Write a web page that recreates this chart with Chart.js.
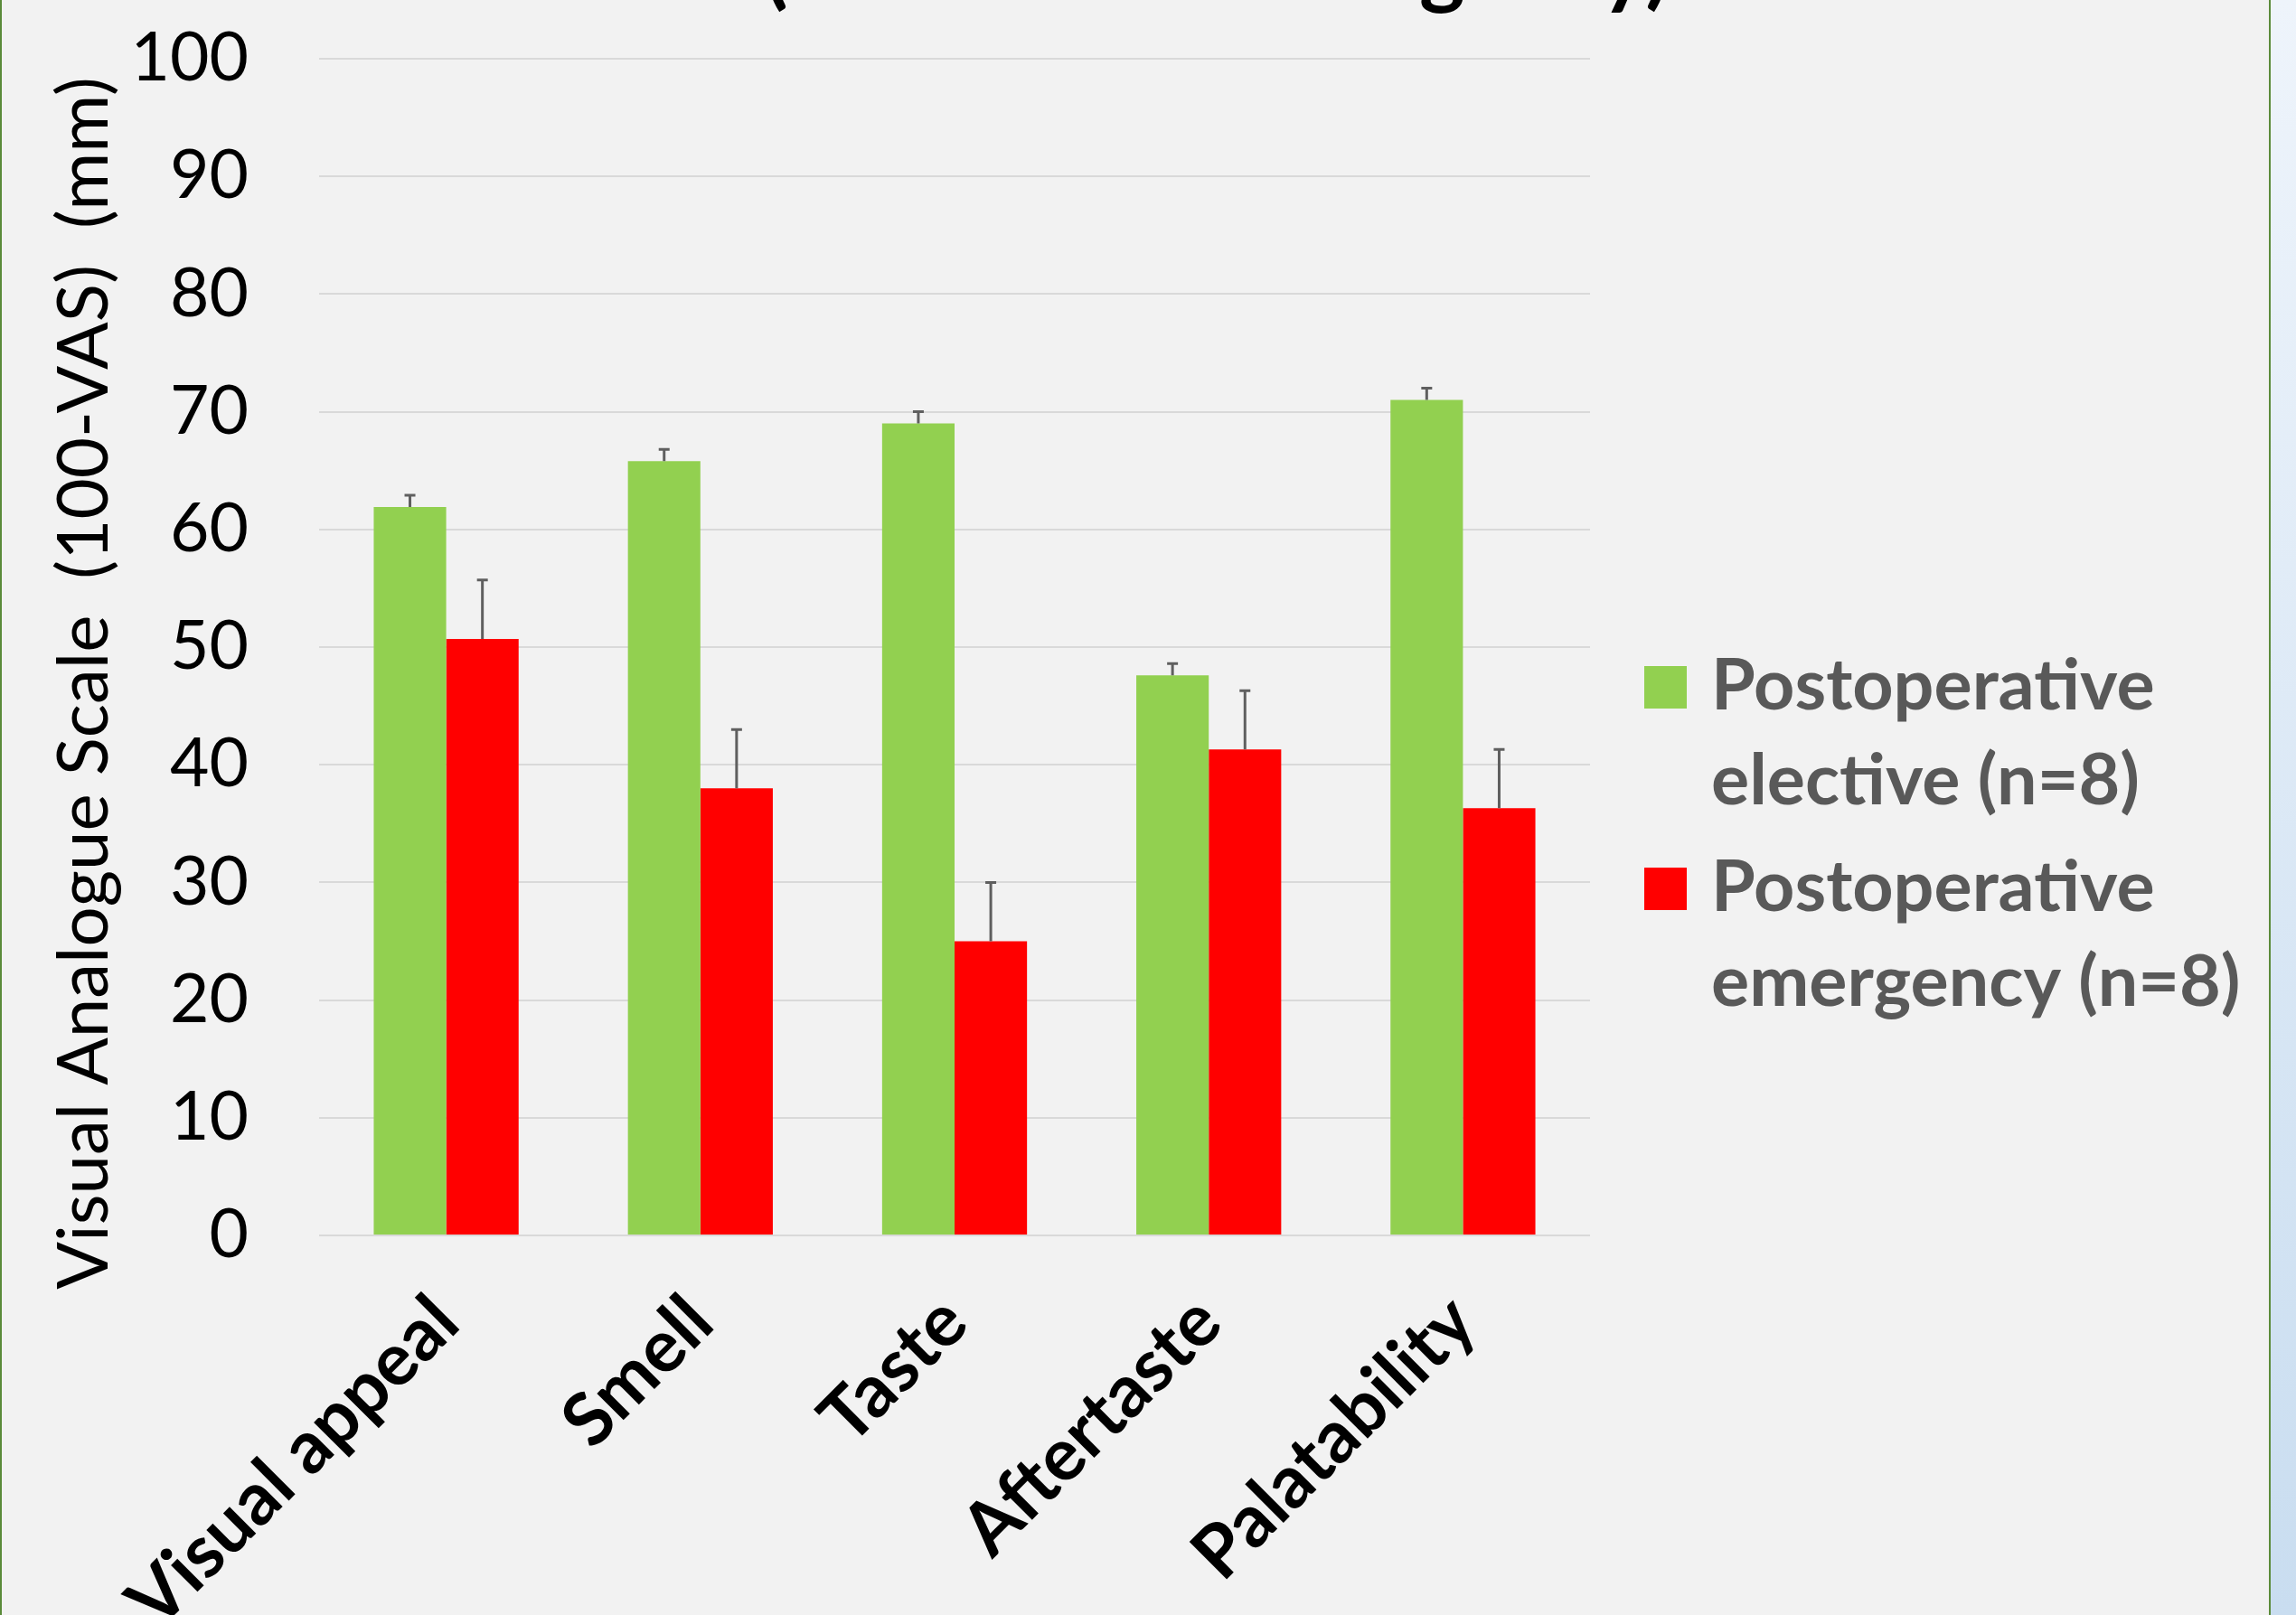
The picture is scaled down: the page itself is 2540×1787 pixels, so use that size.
<!DOCTYPE html>
<html>
<head>
<meta charset="utf-8">
<script src="https://cdn.jsdelivr.net/npm/chart.js@4.4.1/dist/chart.umd.min.js"></script>
<style>
  html, body { margin: 0; padding: 0; width: 2540px; height: 1787px; overflow: hidden;
    background: linear-gradient(#eef4fb, #c9ddf0); }
  #frame { position: absolute; left: 0; top: 0; width: 2508px; height: 1787px;
    border-left: 2px solid #5b8b3a; border-right: 2px solid #5b8b3a;
    background: #f2f2f2; overflow: hidden; }
  #frame canvas { display: block; }
</style>
</head>
<body>
<div id="frame"><canvas id="chart" width="2508" height="1787"></canvas></div>
<script>
const categories = ["Visual appeal", "Smell", "Taste", "Aftertaste", "Palatability"];
const elective = [61.9, 65.8, 69.0, 47.6, 71.0];
const electiveErr = [1.0, 1.0, 1.0, 1.0, 1.0];
const emergency = [50.7, 38.0, 25.0, 41.3, 36.3];
const emergencyErr = [5.0, 5.0, 5.0, 5.0, 5.0];
const yTicks = [0, 10, 20, 30, 40, 50, 60, 70, 80, 90, 100];
const seriesLabels = ["Postoperative elective (n=8)", "Postoperative emergency (n=8)"];
const titleText = "(Elective vs Emergency)";
const yTitle = "Visual Analogue Scale  (100-VAS)  (mm)";

// upper error bars only, as in the original
const errorBars = {
  id: "errorBars",
  afterDatasetsDraw(chart) {
    const ctx = chart.ctx;
    const y = chart.scales.y;
    chart.data.datasets.forEach((ds, i) => {
      chart.getDatasetMeta(i).data.forEach((bar, j) => {
        const top = y.getPixelForValue(ds.data[j] + ds.errors[j]);
        ctx.save();
        ctx.strokeStyle = "#5f5f5f";
        ctx.lineWidth = 3;
        ctx.beginPath();
        ctx.moveTo(bar.x, bar.y);
        ctx.lineTo(bar.x, top);
        ctx.moveTo(bar.x - 6, top);
        ctx.lineTo(bar.x + 6, top);
        ctx.stroke();
        ctx.restore();
      });
    });
  }
};

// title sits mostly above the visible area, only its bottom shows
const topTitle = {
  id: "topTitle",
  afterDraw(chart) {
    const ctx = chart.ctx;
    ctx.save();
    ctx.font = "bold 96px Lato";
    ctx.fillStyle = "#000";
    ctx.textAlign = "center";
    ctx.textBaseline = "alphabetic";
    ctx.fillText(titleText, 1344, -2);
    ctx.restore();
  }
};

// two-line legend on the right
const sideLegend = {
  id: "sideLegend",
  afterDraw(chart) {
    const ctx = chart.ctx;
    ctx.save();
    ctx.font = "bold 79px Lato";
    ctx.textBaseline = "alphabetic";
    chart.data.datasets.forEach((ds, i) => {
      const base = 785 + i * 223;
      ctx.fillStyle = ds.backgroundColor;
      ctx.fillRect(1817, base - 48, 47, 47);
      ctx.fillStyle = "#595959";
      const cut = ds.label.indexOf(" ");
      ctx.fillText(ds.label.slice(0, cut), 1891, base);
      ctx.fillText(ds.label.slice(cut + 1), 1891, base + 105);
    });
    ctx.restore();
  }
};

function draw() {
  Chart.defaults.font.family = "Lato";
  Chart.defaults.color = "#000";

  new Chart(document.getElementById("chart"), {
    type: "bar",
    data: {
      labels: categories,
      datasets: [
        { label: seriesLabels[0], data: elective, errors: electiveErr,
          backgroundColor: "#92d050", categoryPercentage: 0.57, barPercentage: 1.0 },
        { label: seriesLabels[1], data: emergency, errors: emergencyErr,
          backgroundColor: "#ff0000", categoryPercentage: 0.57, barPercentage: 1.0 }
      ]
    },
    options: {
      responsive: false,
      animation: false,
      devicePixelRatio: 1,
      layout: { padding: { top: 65, right: 751, left: 0, bottom: 0 } },
      plugins: {
        legend: { display: false },
        title: { display: false },
        tooltip: { enabled: false }
      },
      scales: {
        x: {
          grid: { display: false },
          border: { display: false },
          ticks: {
            font: { size: 81, weight: "bold" },
            color: "#000",
            minRotation: 45,
            maxRotation: 45,
            autoSkip: false,
            padding: 40
          },
          afterFit(scale) { scale.height = 420; }
        },
        y: {
          min: 0,
          max: 100,
          afterBuildTicks(scale) { scale.ticks = yTicks.map(v => ({ value: v })); },
          grid: { color: "#d9d9d9", lineWidth: 2, drawTicks: false },
          border: { display: false },
          ticks: { font: { size: 75 }, color: "#000", padding: 78 },
          title: {
            display: true,
            text: yTitle + "    ",
            font: { size: 78 },
            color: "#000",
            padding: { top: 45, bottom: 0 }
          },
          afterFit(scale) {
            scale.width = 351;
            // tick padding should not push the plot down from the top
            scale.paddingTop = 0;
            scale.paddingBottom = 0;
          }
        }
      }
    },
    plugins: [errorBars, topTitle, sideLegend]
  });
}

document.fonts.load("75px Lato").then(() => document.fonts.load("bold 75px Lato")).then(draw, draw);
</script>
</body>
</html>
